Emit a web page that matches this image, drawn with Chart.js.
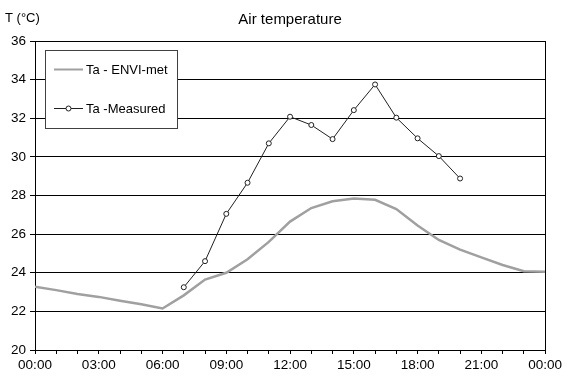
<!DOCTYPE html>
<html>
<head>
<meta charset="utf-8">
<script src="https://cdn.jsdelivr.net/npm/chart.js@4"></script>
<style>
  body { margin: 0; background: #fff; }
  canvas { display: block; }
</style>
</head>
<body>
<canvas id="chart" width="565" height="379"></canvas>
<script>
// Hours of the day (0 = 00:00, 24 = next 00:00)
const envHours = [0, 1, 2, 3, 4, 5, 6, 7, 8, 9, 10, 11, 12, 13, 14, 15, 16, 17, 18, 19, 20, 21, 22, 23, 24];
const envTemps = [23.27, 23.1, 22.9, 22.75, 22.55, 22.37, 22.15, 22.83, 23.65, 24.0, 24.7, 25.6, 26.65, 27.35, 27.7, 27.85, 27.78, 27.3, 26.45, 25.7, 25.2, 24.8, 24.4, 24.08, 24.05];

const measHours = [7, 8, 9, 10, 11, 12, 13, 14, 15, 16, 17, 18, 19, 20];
const measTemps = [23.25, 24.6, 27.05, 28.66, 30.7, 32.08, 31.65, 30.92, 32.42, 33.75, 32.03, 30.96, 30.04, 28.88];

const seriesLabels = ['Ta - ENVI-met', 'Ta -Measured'];
const chartTitle = 'Air temperature';
const yAxisTitle = 'T (°C)';

Chart.defaults.font.family = '"Liberation Sans", Arial, sans-serif';
Chart.defaults.color = '#000';

const fmtHour = v => String(v % 24).padStart(2, '0') + ':00';

// Draws title, y-axis caption, plot frame and the in-plot legend box
const excelLook = {
    id: 'excelLook',
    beforeDatasetsDraw(chart) {
        const { ctx, chartArea: a } = chart;
        ctx.save();
        ctx.strokeStyle = '#000';
        ctx.lineWidth = 1;
        ctx.strokeRect(Math.round(a.left) + 0.5, Math.round(a.top) + 0.5,
            Math.round(a.right - a.left), Math.round(a.bottom - a.top));
        ctx.restore();
    },
    afterDraw(chart) {
        const { ctx, chartArea: a } = chart;
        const ds = chart.data.datasets;
        ctx.save();
        ctx.fillStyle = '#000';
        ctx.textBaseline = 'middle';

        ctx.font = '15px "Liberation Sans", Arial, sans-serif';
        ctx.textAlign = 'center';
        ctx.fillText(chartTitle, (a.left + a.right) / 2, 20);

        ctx.font = '13px "Liberation Sans", Arial, sans-serif';
        ctx.textAlign = 'left';
        ctx.fillText(yAxisTitle, 5, 18);

        // legend box
        const bx = 45, by = 50, bw = 132, bh = 78;
        ctx.fillStyle = '#fff';
        ctx.fillRect(bx, by, bw, bh);
        ctx.strokeStyle = '#404040';
        ctx.lineWidth = 1;
        ctx.strokeRect(bx + 0.5, by + 0.5, bw, bh);

        const rows = [69, 108];
        ds.forEach((d, i) => {
            const y = rows[i];
            ctx.strokeStyle = d.borderColor;
            ctx.lineWidth = Math.min(d.borderWidth, 2);
            ctx.beginPath();
            ctx.moveTo(54, y + 0.5);
            ctx.lineTo(83, y + 0.5);
            ctx.stroke();
            if (d.pointRadius > 0) {
                ctx.fillStyle = '#fff';
                ctx.lineWidth = 1;
                ctx.strokeStyle = d.pointBorderColor;
                ctx.beginPath();
                ctx.arc(68.5, y + 0.5, 2.5, 0, Math.PI * 2);
                ctx.fill();
                ctx.stroke();
            }
            ctx.fillStyle = '#000';
            ctx.font = '13px "Liberation Sans", Arial, sans-serif';
            ctx.fillText(d.label, 86, y + 1);
        });
        ctx.restore();
    }
};

new Chart(document.getElementById('chart'), {
    type: 'line',
    data: {
        datasets: [
            {
                label: seriesLabels[0],
                data: envHours.map((h, i) => ({ x: h, y: envTemps[i] })),
                borderColor: '#a0a0a0',
                borderWidth: 2.5,
                pointRadius: 0,
                tension: 0,
                order: 2
            },
            {
                label: seriesLabels[1],
                data: measHours.map((h, i) => ({ x: h, y: measTemps[i] })),
                borderColor: '#202020',
                borderWidth: 1,
                pointRadius: 2.5,
                pointBackgroundColor: '#fff',
                pointBorderColor: '#202020',
                pointBorderWidth: 1,
                tension: 0,
                order: 1
            }
        ]
    },
    options: {
        responsive: false,
        animation: false,
        layout: { padding: { top: 41, right: 17, left: 0, bottom: 0 } },
        plugins: {
            legend: { display: false },
            title: { display: false },
            tooltip: { enabled: false }
        },
        scales: {
            x: {
                type: 'linear',
                min: 0,
                max: 24,
                afterFit(scale) { scale.height = 29; },
                ticks: {
                    stepSize: 1,
                    autoSkip: false,
                    maxRotation: 0,
                    padding: 3,
                    font: { size: 13.5 },
                    callback: v => (v % 3 === 0 ? fmtHour(v) : '')
                },
                grid: { drawOnChartArea: false, drawTicks: true, tickLength: 4, color: '#000' },
                border: { color: '#000' }
            },
            y: {
                min: 20,
                max: 36,
                afterFit(scale) { scale.width = 35; },
                ticks: { stepSize: 2, padding: 4, font: { size: 13.5 } },
                grid: { color: '#000', tickLength: 5 },
                border: { color: '#000' }
            }
        }
    },
    plugins: [excelLook]
});
</script>
</body>
</html>
